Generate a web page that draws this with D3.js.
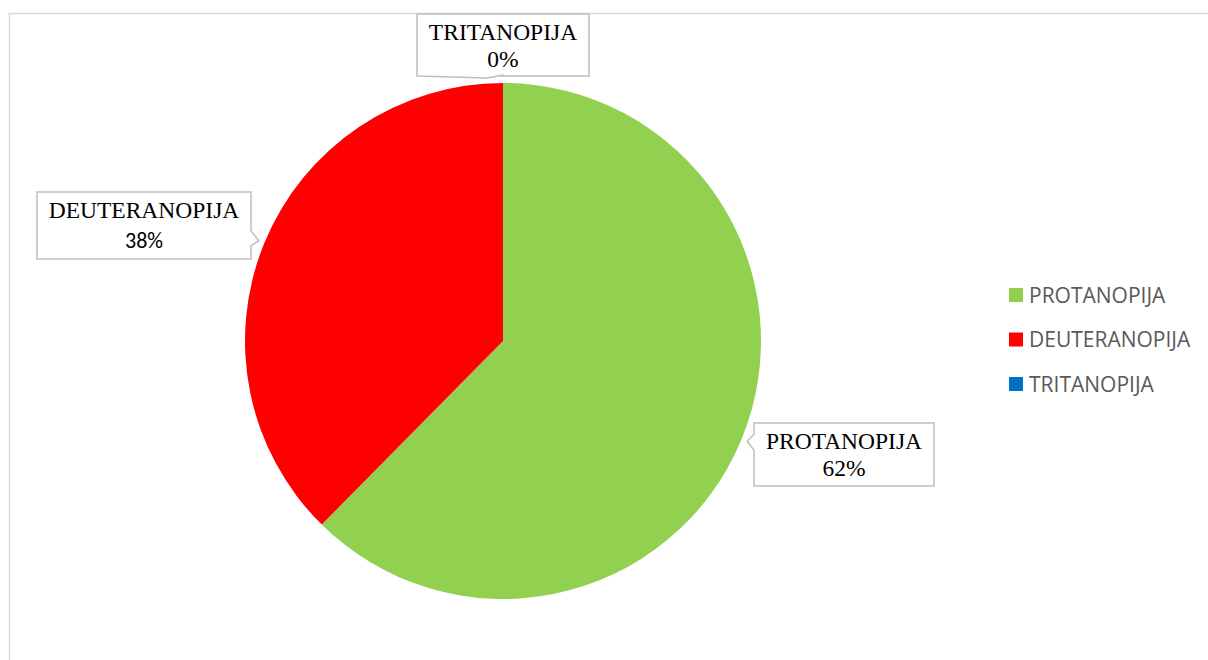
<!DOCTYPE html>
<html>
<head>
<meta charset="utf-8">
<script src="https://cdn.jsdelivr.net/npm/d3@7"></script>
<style>
  html, body { margin: 0; padding: 0; background: #fff; }
  svg { display: block; }
</style>
</head>
<body>
<svg id="chart" width="1208" height="660"></svg>
<script>
// data
const categories = ["PROTANOPIJA", "DEUTERANOPIJA", "TRITANOPIJA"];
const values = [62.4, 37.6, 0];
const colors = ["#92D050", "#FF0000", "#0070C0"];

// label callouts: box placement per slice (box x, y, w, h, pointer side)
const callouts = [
  { x: 754, y: 423, w: 180, h: 63, side: "left", pctFont: "serif" },
  { x: 37, y: 192, w: 214, h: 67, side: "right", pctFont: "sans" },
  { x: 417, y: 14, w: 172, h: 62, side: "bottom", pctFont: "serif" }
];

const svg = d3.select("#chart");

// chart area border (runs off the right and bottom edges)
svg.append("rect")
  .attr("x", 9.5).attr("y", 13.5)
  .attr("width", 1210).attr("height", 660)
  .attr("fill", "#fff")
  .attr("stroke", "#d9d9d9")
  .attr("stroke-width", 1.5);

const cx = 503, cy = 341, r = 258;

const pie = d3.pie().sort(null).value(d => d);
const arcs = pie(values);
const arc = d3.arc().innerRadius(0).outerRadius(r);

const g = svg.append("g").attr("transform", `translate(${cx},${cy})`);
g.selectAll("path.slice")
  .data(arcs)
  .join("path")
  .attr("class", "slice")
  .attr("d", arc)
  .attr("fill", (d, i) => colors[i]);

const total = d3.sum(values);
const fmt = v => Math.round(v / total * 100) + "%";

// callout boxes with a small pointer toward the slice
callouts.forEach((c, i) => {
  const a = arcs[i];
  const mid = (a.startAngle + a.endAngle) / 2;
  const tip = [cx + Math.sin(mid) * (r + 6), cy - Math.cos(mid) * (r + 6)];
  const x0 = c.x, y0 = c.y, x1 = c.x + c.w, y1 = c.y + c.h;
  let pts;
  if (c.side === "left") {
    const py = Math.max(y0 + 4, Math.min(y1 - 20, tip[1] - 7));
    pts = [[x0, y0], [x1, y0], [x1, y1], [x0, y1], [x0, py + 16], tip, [x0, py]];
  } else if (c.side === "right") {
    const py = Math.max(y0 + 4, Math.min(y1 - 20, tip[1] - 10));
    pts = [[x0, y0], [x1, y0], [x1, py], tip, [x1, py + 15], [x1, y1], [x0, y1]];
  } else {
    pts = [[x0, y0], [x1, y0], [x1, y1], [tip[0] - 6, y1], [tip[0] + 0.5, tip[1] - 2], [tip[0] - 16, y1 + 2], [x0, y1]];
  }
  svg.append("path")
    .attr("d", d3.line()(pts) + "Z")
    .attr("fill", "#fff")
    .attr("stroke", "#bfbfbf")
    .attr("stroke-width", 1.5);

  const tx = (x0 + x1) / 2;
  svg.append("text")
    .attr("x", tx).attr("y", y0 + 26)
    .attr("text-anchor", "middle")
    .attr("font-family", "'Liberation Serif', 'Times New Roman', serif")
    .attr("font-size", 23.5)
    .attr("fill", "#000")
    .text(categories[i]);
  svg.append("text")
    .attr("x", tx).attr("y", y0 + 53 + (c.pctFont === "sans" ? 3 : 0))
    .attr("text-anchor", "middle")
    .attr("font-family", c.pctFont === "sans" ? "Carlito, 'Open Sans', sans-serif" : "'Liberation Serif', 'Times New Roman', serif")
    .attr("font-size", c.pctFont === "sans" ? 22 : 23.5)
    .attr("fill", "#000")
    .text(fmt(values[i]));
});

// legend
const legendY = d3.scalePoint().domain(categories).range([295, 384]);
const legend = svg.append("g");
categories.forEach((name, i) => {
  const y = legendY(name);
  legend.append("rect")
    .attr("x", 1009).attr("y", y - 7)
    .attr("width", 14).attr("height", 14)
    .attr("fill", colors[i]);
  legend.append("text")
    .attr("x", 1029).attr("y", y + 7.5)
    .attr("font-family", "'Open Sans', sans-serif")
    .attr("font-size", 21)
    .attr("fill", "#595959")
    .text(name);
});
</script>
</body>
</html>
